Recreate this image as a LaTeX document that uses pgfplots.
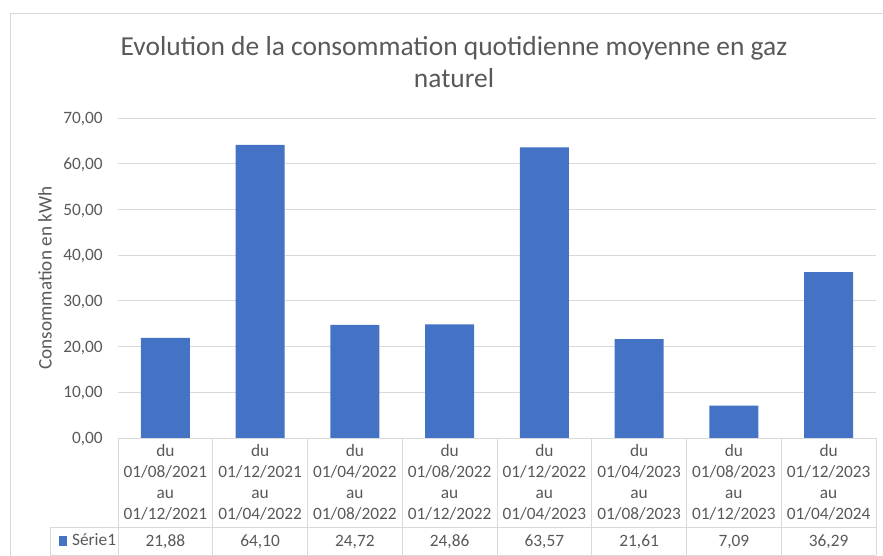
\documentclass[border=0pt]{standalone}
\usepackage{pgfplots}
\pgfplotsset{compat=1.18}
\usepackage{fontspec}
\setmainfont{Carlito}
\definecolor{bar}{HTML}{4472C4}
\definecolor{txt}{HTML}{595959}
\definecolor{grd}{HTML}{D9D9D9}
\begin{document}
\begin{tikzpicture}[x=0.75pt,y=-0.75pt]
\clip (0,0) rectangle (883,556);
\draw[grd, line width=0.75pt] (10.5,13.5) rectangle (1000,700);
\node[align=center, text=txt, font=\fontsize{20.6}{24}\selectfont] at (454,62) {Evolution de la consommation quotidienne moyenne en gaz\\naturel};
\begin{axis}[
  at={(88.5pt,-328.5pt)}, anchor=south west,
  scale only axis, width=568.5pt, height=240pt,
  xmin=-0.5, xmax=7.5, ymin=0, ymax=70,
  ytick={0,10,...,70},
  xtick=data,
  xticklabels={
    {du\\01/08/2021\\au\\01/12/2021\\[4.9pt]21,88},
    {du\\01/12/2021\\au\\01/04/2022\\[4.9pt]64,10},
    {du\\01/04/2022\\au\\01/08/2022\\[4.9pt]24,72},
    {du\\01/08/2022\\au\\01/12/2022\\[4.9pt]24,86},
    {du\\01/12/2022\\au\\01/04/2023\\[4.9pt]63,57},
    {du\\01/04/2023\\au\\01/08/2023\\[4.9pt]21,61},
    {du\\01/08/2023\\au\\01/12/2023\\[4.9pt]7,09},
    {du\\01/12/2023\\au\\01/04/2024\\[4.9pt]36,29}},
  axis line style={draw=none},
  major tick length=0pt,
  ymajorgrids, grid style={grd, line width=0.75pt},
  /pgf/number format/assume math mode=true,
  yticklabel style={/pgf/number format/.cd, fixed, fixed zerofill, precision=2, use comma, /tikz/.cd,
    anchor=east, inner sep=0pt, text depth=0pt, xshift=-11.25pt, text=txt, font=\fontsize{13}{15.75}\selectfont},
  xticklabel style={anchor=north, inner sep=0pt, align=center, yshift=-4.5pt, text=txt, font=\fontsize{13}{15.75}\selectfont},
  ylabel={Consommation en kWh},
  ylabel style={at={(axis description cs:-0.0963,0.5)}, anchor=center, text=txt, font=\fontsize{14.4}{17}\selectfont},
  legend style={at={(axis description cs:-0.078,-0.3219)}, anchor=west, draw=none, fill=none, inner sep=0pt,
    font=\fontsize{13}{15.75}\selectfont, text=txt, nodes={inner sep=0pt}, column sep=3.5pt},
  legend image code/.code={\fill[bar] (0pt,-3.4pt) rectangle (6.2pt,3.4pt);},
]
\addplot[ybar, bar width=36.75pt, fill=bar, draw=none] coordinates {
  (0,21.88) (1,64.10) (2,24.72) (3,24.86) (4,63.57) (5,21.61) (6,7.09) (7,36.29)};
\addlegendentry{Série1}
\end{axis}
\draw[grd, line width=0.75pt] (118,438) -- (876,438);
\draw[grd, line width=0.75pt] (50,527) -- (876,527);
\draw[grd, line width=0.75pt] (50,555) -- (876,555);
\draw[grd, line width=0.75pt] (50,527) -- (50,555);
\foreach \i in {0,...,8} {\draw[grd, line width=0.75pt] ({118+\i*94.75},438) -- ({118+\i*94.75},555);}
\end{tikzpicture}
\end{document}
